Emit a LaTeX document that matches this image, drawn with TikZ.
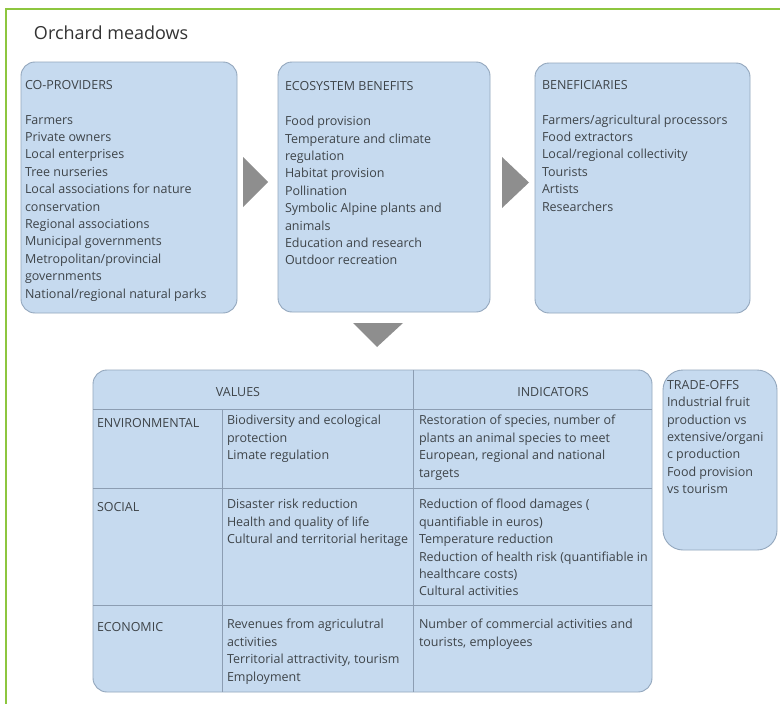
\documentclass[tikz,border=0pt]{standalone}
\usepackage{fontspec}
\setmainfont{Open Sans}
\usetikzlibrary{calc}
\definecolor{panelfill}{HTML}{C6DAEF}
\definecolor{panelline}{HTML}{93A7BD}
\definecolor{gridline}{HTML}{8C9DB2}
\definecolor{ink}{HTML}{3E4449}
\definecolor{titleink}{HTML}{333333}
\definecolor{arrowgray}{HTML}{8E8E8E}
\definecolor{framegreen}{HTML}{8DC63F}
\begin{document}
\begin{tikzpicture}[x=1pt,y=-1pt,
  every node/.style={inner sep=0pt, outer sep=0pt},
  panel/.style={draw=panelline, fill=panelfill, line width=0.9pt, rounded corners=14pt, anchor=north west},
  % text blocks: the given point is the baseline of the first line
  txt/.style={anchor=north west, yshift=12.18pt, align=left, text=ink,
    font=\fontsize{12.5}{17.4}\selectfont, execute at begin node=\strut},
  hdr/.style={anchor=base, text=ink, font=\fontsize{12.5}{17.4}\selectfont},
  flow/.style={fill=arrowgray, draw=none},
  grid/.style={draw=gridline, line width=0.7pt},
]
\useasboundingbox (0,0) rectangle (780,704);
\fill[white] (0,0) rectangle (780,704);

% page frame
\draw[framegreen, line width=2.2pt] (6,704) -- (6,9) -- (780,9);

\node[anchor=base west, text=titleink, font=\fontsize{18}{22}\selectfont] (title) at (34,39) {Orchard meadows};

% upper row of panels
\node[panel, minimum width=216pt, minimum height=251pt] (coprov) at (21,62) {};
\node[panel, minimum width=212pt, minimum height=250pt] (benefits) at (278,62) {};
\node[panel, minimum width=215pt, minimum height=250pt] (benef) at (535,63) {};

\node[txt] (coprovtxt) at (25,92.5) {CO-PROVIDERS\\[17.4pt]
Farmers\\Private owners\\Local enterprises\\Tree nurseries\\Local associations for nature\\conservation\\Regional associations\\Municipal governments\\Metropolitan/provincial\\governments\\National/regional natural parks};

\node[txt] (benefitstxt) at (285,94) {ECOSYSTEM BENEFITS\\[17.4pt]
Food provision\\Temperature and climate\\regulation\\Habitat provision\\Pollination\\Symbolic Alpine plants and\\animals\\Education and research\\Outdoor recreation};

\node[txt] (beneftxt) at (542,92.5) {BENEFICIARIES\\[17.4pt]
Farmers/agricultural processors\\Food extractors\\Local/regional collectivity\\Tourists\\Artists\\Researchers};

% flow arrows
\fill[flow] ($(coprov.north east)+(6,95)$) -- ++(0,50) -- ++(25,-25) -- cycle;
\fill[flow] ($(benefits.north east)+(12,95)$) -- ++(0,51) -- ++(27,-25.5) -- cycle;
\fill[flow] ($(benefits.south west)+(75,11)$) -- ++(50,0) -- ++(-26,24) -- cycle;

% values / indicators table
\node[panel, minimum width=559pt, minimum height=322pt] (tbl) at (93,370) {};
\draw[grid] ($(tbl.north west)+(0,39)$) -- ($(tbl.north east)+(0,39)$);
\draw[grid] ($(tbl.north west)+(0,118)$) -- ($(tbl.north east)+(0,118)$);
\draw[grid] ($(tbl.north west)+(0,235)$) -- ($(tbl.north east)+(0,235)$);
\draw[grid] ($(tbl.north west)+(129,39)$) -- ($(tbl.south west)+(129,0)$);
\draw[grid] ($(tbl.north west)+(320,0)$) -- ($(tbl.south west)+(320,0)$);

\node[hdr] (valueshd) at (238,396.5) {VALUES};
\node[hdr] (indhd) at (553,396.5) {INDICATORS};

\node[txt] (envlbl) at (97,427.5) {ENVIRONMENTAL};
\node[txt] (socllbl) at (97,511.5) {SOCIAL};
\node[txt] (ecolbl) at (97,631.5) {ECONOMIC};

\node[txt] (envval) at (227,427.5) {Biodiversity and ecological\\protection\\Limate regulation};
\node[txt] (soclval) at (227,511.5) {Disaster risk reduction\\Health and quality of life\\Cultural and territorial heritage};
\node[txt] (ecoval) at (227,631.5) {Revenues from agriculutral\\activities\\Territorial attractivity, tourism\\Employment};

\node[txt] (envind) at (419,427.5) {Restoration of species, number of\\plants an animal species to meet\\European, regional and national\\targets};
\node[txt] (soclind) at (419,511.5) {Reduction of flood damages (\\quantifiable in euros)\\Temperature reduction\\Reduction of health risk (quantifiable in\\healthcare costs)\\Cultural activities};
\node[txt] (ecoind) at (419,631.5) {Number of commercial activities and\\tourists, employees};

% trade-offs panel
\node[panel, rounded corners=20pt, minimum width=114pt, minimum height=180pt] (trade) at (663,370) {};
\node[txt] (tradetxt) at (667,392.5) {TRADE-OFFS\\Industrial fruit\\production vs\\extensive/organi\\c production\\Food provision\\vs tourism};
\end{tikzpicture}
\end{document}
